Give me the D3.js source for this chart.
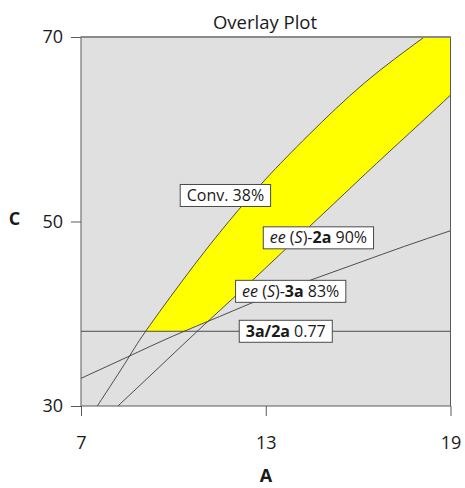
<!DOCTYPE html>
<html>
<head>
<meta charset="utf-8">
<script src="https://cdn.jsdelivr.net/npm/d3@7"></script>
<style>
  html, body { margin: 0; padding: 0; background: #fff; }
  svg { display: block; font-family: "Open Sans", "Noto Sans", sans-serif; }
</style>
</head>
<body>
<svg id="chart" width="465" height="488"></svg>
<script>
// Axis ranges and tick labels
const xDomain = [7, 19];
const yDomain = [30, 70];
const xTicks = [7, 13, 19];
const yTicks = [30, 50, 70];

// Contour: Conv. 38%
const convA = [7.53, 8.5, 9.1, 10.5, 11.8, 13.0, 14.4, 16.2, 18.15];
const convC = [30.0, 35.0, 38.1, 44.5, 50.0, 54.6, 59.4, 65.0, 70.0];

// Contour: ee (S)-2a 90%
const ee2aA = [8.2, 9.6, 11.0, 12.4, 13.8, 15.2, 16.6, 18.0, 19.0];
const ee2aC = [30.0, 34.4, 38.8, 43.1, 47.5, 51.9, 56.3, 60.6, 63.7];

// Contour: ee (S)-3a 83%
const ee3aA = [7, 8.5, 10, 11.5, 13, 14.5, 16, 17.5, 19];
const ee3aC = [33.0, 35.3, 37.6, 39.7, 41.8, 43.7, 45.5, 47.3, 49.0];

// Contour: 3a/2a 0.77 (constant C)
const ratioC = 38.1;

// Flag labels: text runs and the point (A, C) each flag is centred on
const labelRuns = [
  [["Conv. 38%", ""]],
  [["ee", "i"], [" (", ""], ["S", "i"], [")-", ""], ["2a", "b"], [" 90%", ""]],
  [["ee", "i"], [" (", ""], ["S", "i"], [")-", ""], ["3a", "b"], [" 83%", ""]],
  [["3a/2a", "b"], [" 0.77", ""]]
];
const labelA = [11.69, 14.71, 13.81, 13.65];
const labelC = [52.82, 48.23, 42.43, 38.1];

const svg = d3.select("#chart");
const mLeft = 81, mRight = 450.5, mTop = 37, mBottom = 406;

const x = d3.scaleLinear().domain(xDomain).range([mLeft, mRight]);
const y = d3.scaleLinear().domain(yDomain).range([mBottom, mTop]);

const zip = (a, c) => a.map((v, i) => [v, c[i]]);
const conv = zip(convA, convC);
const ee2a = zip(ee2aA, ee2aC);
const ee3a = zip(ee3aA, ee3aC);

const line = d3.line().x(d => x(d[0])).y(d => y(d[1])).curve(d3.curveNatural);

const defs = svg.append("defs");
defs.append("clipPath").attr("id", "plotClip")
  .append("rect").attr("x", mLeft).attr("y", mTop)
  .attr("width", mRight - mLeft).attr("height", mBottom - mTop);

// Region above the 3a contour
defs.append("clipPath").attr("id", "above3a")
  .append("path")
  .attr("d", line(ee3a) + `L${x(xDomain[1])},${y(yDomain[1])}L${x(xDomain[0])},${y(yDomain[1])}Z`);

// Region above the ratio contour
defs.append("clipPath").attr("id", "aboveRatio")
  .append("rect").attr("x", mLeft).attr("y", mTop)
  .attr("width", mRight - mLeft).attr("height", y(ratioC) - mTop);

// Plot background
svg.append("rect")
  .attr("x", mLeft).attr("y", mTop)
  .attr("width", mRight - mLeft).attr("height", mBottom - mTop)
  .attr("fill", "#e0e0e0");

// Feasible window: between Conv and 2a contours, above 3a and ratio contours
const band = line(conv) + `L${x(xDomain[1])},${y(yDomain[1])}` +
  line(ee2a.slice().reverse()).replace(/^M/, "L") + "Z";

svg.append("g").attr("clip-path", "url(#plotClip)")
  .append("g").attr("clip-path", "url(#above3a)")
  .append("g").attr("clip-path", "url(#aboveRatio)")
  .append("path").attr("d", band).attr("fill", "#ffff00");

// Contour lines
const lines = svg.append("g").attr("clip-path", "url(#plotClip)")
  .attr("fill", "none").attr("stroke", "#3c3c3c").attr("stroke-width", 0.9);
[conv, ee2a, ee3a].forEach(pts => lines.append("path").attr("d", line(pts)));
lines.append("line")
  .attr("x1", x(xDomain[0])).attr("x2", x(xDomain[1]))
  .attr("y1", y(ratioC)).attr("y2", y(ratioC));

// Frame
svg.append("rect")
  .attr("x", mLeft).attr("y", mTop)
  .attr("width", mRight - mLeft).attr("height", mBottom - mTop)
  .attr("fill", "none").attr("stroke", "#5a5a5a").attr("stroke-width", 1);
svg.append("line")
  .attr("x1", mLeft).attr("x2", mRight).attr("y1", mTop).attr("y2", mTop)
  .attr("stroke", "#8a8a8a").attr("stroke-width", 2);

// Axes
const xAxis = svg.append("g").attr("transform", `translate(0,${mBottom})`)
  .call(d3.axisBottom(x).tickValues(xTicks).tickSize(10).tickPadding(20).tickSizeOuter(0));
const yAxis = svg.append("g").attr("transform", `translate(${mLeft},0)`)
  .call(d3.axisLeft(y).tickValues(yTicks).tickSize(10).tickPadding(8).tickSizeOuter(0));
[xAxis, yAxis].forEach(g => {
  g.select(".domain").remove();
  g.selectAll(".tick line").attr("stroke", "#5a5a5a");
  g.selectAll(".tick text").attr("fill", "#1a1a1a")
    .style("font-size", "18px").style("font-family", "'Open Sans', 'Noto Sans', sans-serif");
});

// Title and axis titles
svg.append("text").attr("x", 265).attr("y", 29).attr("text-anchor", "middle")
  .attr("fill", "#1a1a1a").style("font-size", "18.5px").text("Overlay Plot");
svg.append("text").attr("x", 266).attr("y", 482).attr("text-anchor", "middle")
  .attr("fill", "#1a1a1a").style("font-size", "18px").style("font-weight", "bold").text("A");
svg.append("text").attr("x", 14.5).attr("y", 225).attr("text-anchor", "middle")
  .attr("fill", "#1a1a1a").style("font-size", "18px").style("font-weight", "bold").text("C");

// Contour flags
labelRuns.forEach((runs, i) => {
  const g = svg.append("g").attr("transform", `translate(${x(labelA[i])},${y(labelC[i])})`);
  const box = g.append("rect").attr("fill", "#fff").attr("stroke", "#4a4a4a").attr("stroke-width", 1);
  const t = g.append("text").attr("text-anchor", "middle").attr("dy", "0.35em")
    .attr("fill", "#1a1a1a").style("font-size", "16px");
  runs.forEach(([s, st]) => {
    t.append("tspan").text(s)
      .style("font-style", st === "i" ? "italic" : "normal")
      .style("font-weight", st === "b" ? "bold" : "normal");
  });
  const bb = t.node().getBBox();
  const w = bb.width + 13, h = 22;
  box.attr("x", -w / 2).attr("y", -h / 2).attr("width", w).attr("height", h);
});
</script>
</body>
</html>
